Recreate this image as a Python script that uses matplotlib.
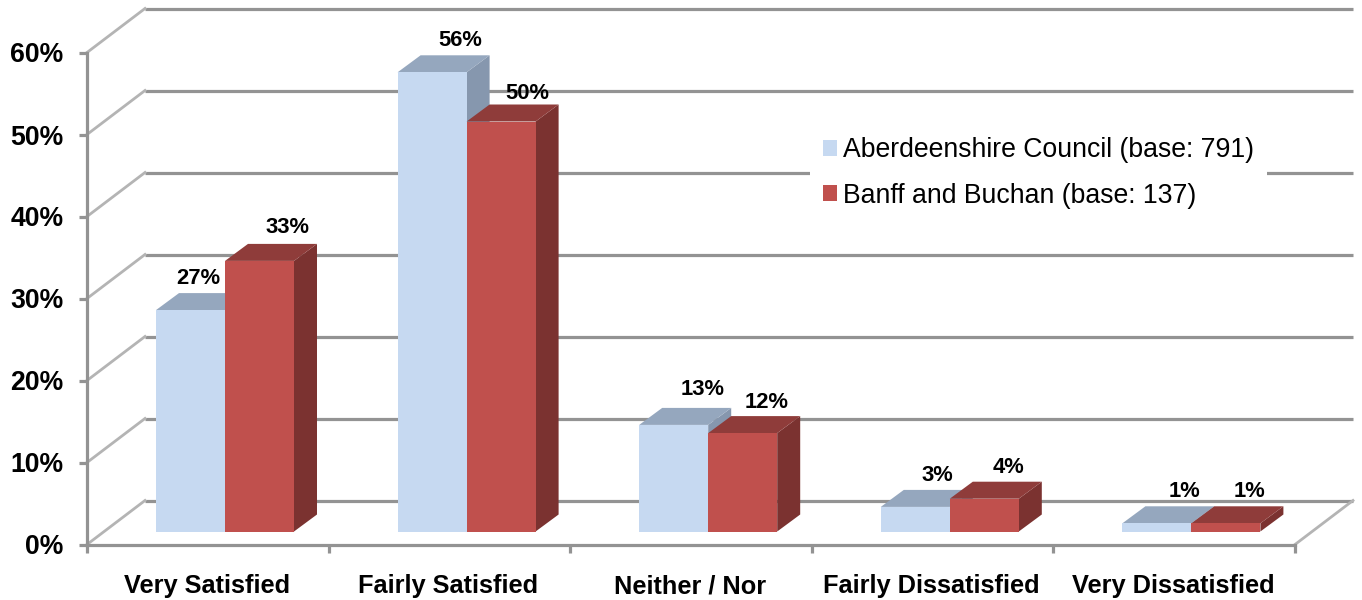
import matplotlib
matplotlib.use("Agg")
import matplotlib.pyplot as plt
from matplotlib.patches import Polygon, Patch
from matplotlib.ticker import FuncFormatter

categories = ["Very Satisfied", "Fairly Satisfied", "Neither / Nor", "Fairly Dissatisfied", "Very Dissatisfied"]
aberdeenshire = [27, 56, 13, 3, 1]
banff = [33, 50, 12, 4, 1]
series_names = ["Aberdeenshire Council (base: 791)", "Banff and Buchan (base: 137)"]
y_ticks = [0, 10, 20, 30, 40, 50, 60]

W, H = 1362, 600
plt.rcParams['font.family'] = ['Liberation Sans', 'DejaVu Sans']
fig = plt.figure(figsize=(W / 100, H / 100), dpi=100, facecolor='white')

# plot-box in pixels
L, R, B, T = 87, 1295, 544.5, 52.5
ax = fig.add_axes([L / W, 1 - B / H, (R - L) / W, (B - T) / H])
ax.set_xlim(0, 5)
ax.set_ylim(0, 60)
ax.patch.set_alpha(0)
px = 5 / (R - L)        # data units per pixel, x
py = 60 / (B - T)       # data units per pixel, y

GRID = '#939393'
LIGHT = '#b4b4b4'
wall_dx, wall_dy = 58 * px, 44 * py
depth_dx, depth_dy = 23 * px, 17 * py
floor_dx, floor_dy = 19 * px, 13 * py
gap = 50 * px
bar_w = 69 * px

# back wall gridlines and side wall slants
for v in y_ticks:
    ax.plot([wall_dx, 5 + wall_dx], [v + wall_dy] * 2, color=GRID, lw=2.3, clip_on=False,
            solid_capstyle='butt', zorder=1)
    ax.plot([0, wall_dx], [v, v + wall_dy], color=LIGHT, lw=2.0, clip_on=False, zorder=1)
ax.plot([5, 5 + wall_dx], [0, wall_dy], color=LIGHT, lw=2.0, clip_on=False, zorder=1)

front = ['#C6D9F1', '#C0504D']
top = ['#95A7BE', '#8F3C3A']
side = ['#8697AE', '#7B3230']
label_offsets = [[(8, 32), (28, 33)], [(28, 32), (26, 28)], [(29, 35), (24, 31)],
                 [(22, 31), (24, 31)], [(28, 32), (24, 32)]]

z = 3
for i in range(len(categories)):
    for s, vals in enumerate((aberdeenshire, banff)):
        v = vals[i]
        x0 = i + gap + floor_dx + s * bar_w
        x1 = x0 + bar_w
        y0 = floor_dy
        y1 = floor_dy + v
        ax.add_patch(Polygon([(x1, y0), (x1 + depth_dx, y0 + depth_dy), (x1 + depth_dx, y1 + depth_dy), (x1, y1)],
                             fc=side[s], ec='none', clip_on=False, zorder=z))
        ax.add_patch(Polygon([(x0, y1), (x1, y1), (x1 + depth_dx, y1 + depth_dy), (x0 + depth_dx, y1 + depth_dy)],
                             fc=top[s], ec='none', clip_on=False, zorder=z))
        ax.add_patch(Polygon([(x0, y0), (x1, y0), (x1, y1), (x0, y1)],
                             fc=front[s], ec='none', clip_on=False, zorder=z))
        z += 1
        ox, oy = label_offsets[i][s]
        ax.annotate(f"{v}%", xy=((x0 + x1) / 2, y1), xytext=(ox * 0.72, oy * 0.72),
                    textcoords='offset points', ha='center', va='center',
                    fontsize=15.8, fontweight='bold', color='black', zorder=30)

for name in ('top', 'right'):
    ax.spines[name].set_visible(False)
for name in ('left', 'bottom'):
    ax.spines[name].set_color(GRID)
    ax.spines[name].set_linewidth(2.3)
    ax.spines[name].set_zorder(2)

ax.set_yticks(y_ticks)
ax.yaxis.set_major_formatter(FuncFormatter(lambda v, _: f"{int(v)}%"))
ax.tick_params(axis='y', length=5.5, width=2.3, color=GRID, labelsize=19.2, pad=11.5, labelcolor='black')
for t in ax.get_yticklabels():
    t.set_fontweight('bold')
ax.set_xticks(range(6))
ax.set_xticklabels([])
ax.tick_params(axis='x', length=5.5, width=2.3, color=GRID)
for i, c in enumerate(categories):
    ax.annotate(c, xy=(i + 0.5, 0), xycoords='data', xytext=(-1 * 0.72, -49 * 0.72), textcoords='offset points',
                ha='center', va='baseline', fontsize=18.3, fontweight='bold', color='black')

handles = [Patch(fc=front[0], ec='none'), Patch(fc=front[1], ec='none')]
leg = ax.legend(handles, series_names, loc='center left',
                bbox_to_anchor=((810 - L) / (R - L), (B - 173) / (B - T)),
                frameon=True, facecolor='white', edgecolor='none', framealpha=1, fancybox=False,
                fontsize=19.2, handlelength=0.52, handleheight=0.52, handletextpad=0.22,
                labelspacing=0.72, borderpad=0.49, borderaxespad=0)
leg.set_zorder(10)

fig.savefig("out.png", dpi=100, facecolor='white')
